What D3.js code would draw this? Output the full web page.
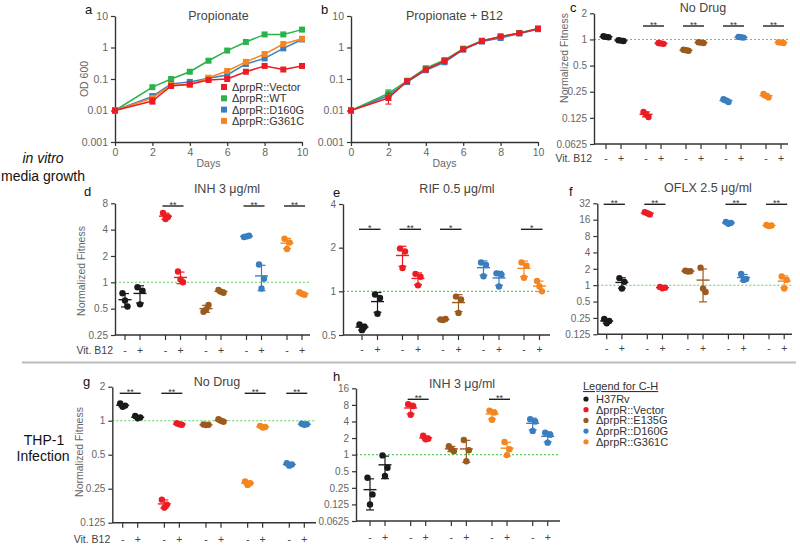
<!DOCTYPE html>
<html>
<head>
<meta charset="utf-8">
<script src="https://cdn.jsdelivr.net/npm/d3@7"></script>
<style>
body { margin: 0; background: #fff; }
text { font-family: "Liberation Sans", Arial, Helvetica, sans-serif; }
</style>
</head>
<body>
<svg id="fig" width="800" height="546"></svg>
<script>
// ---- panel a / b growth curves ----
var days = [0, 2, 3, 4, 5, 6, 7, 8, 9, 10];
var propVector = [0.01, 0.02, 0.06, 0.068, 0.093, 0.1, 0.17, 0.26, 0.2, 0.26];
var propWT     = [0.01, 0.055, 0.1, 0.17, 0.38, 0.8, 1.5, 2.6, 2.6, 3.7];
var propD160G  = [0.01, 0.028, 0.07, 0.081, 0.105, 0.134, 0.3, 0.45, 0.94, 1.8];
var propG361C  = [0.01, 0.025, 0.065, 0.065, 0.11, 0.18, 0.35, 0.62, 1.29, 1.9];
var b12Vector  = [0.01, 0.025, 0.085, 0.2, 0.37, 0.88, 1.6, 2.25, 2.85, 3.95];
var b12WT      = [0.01, 0.035, 0.088, 0.22, 0.4, 0.92, 1.65, 2.2, 2.9, 4.0];
var b12D160G   = [0.01, 0.03, 0.08, 0.19, 0.34, 0.86, 1.55, 2.0, 2.8, 3.8];
// error bars [day, low, high]
var propVectorErr = [[2, 0.016, 0.025]];
var propD160GErr  = [[2, 0.022, 0.034]];
var propG361CErr  = [[4, 0.058, 0.075]];
var b12VectorErr  = [[2, 0.016, 0.035]];
var b12WTErr      = [[2, 0.028, 0.045]];
var odTicks = [0.001, 0.01, 0.1, 1, 10];
var dayTicks = [0, 2, 4, 6, 8, 10];
var legendA = ["ΔprpR::Vector", "ΔprpR::WT", "ΔprpR::D160G", "ΔprpR::G361C"];

// ---- panels c-h: replicate fitness values, [group][minus B12, plus B12][replicate] ----
var orderCF = ["H37Rv", "Vector", "E135G", "D160G", "G361C"];
var orderGH = ["H37Rv", "Vector", "E135G", "G361C", "D160G"];
var fitC = [
  [[1.09, 1.06, 1.07], [0.98, 0.96, 0.97]],
  [[0.146, 0.128, 0.138], [0.91, 0.89, 0.9]],
  [[0.76, 0.74, 0.75], [0.93, 0.91, 0.92]],
  [[0.205, 0.19, 0.198], [1.07, 1.05, 1.06]],
  [[0.235, 0.215, 0.225], [0.93, 0.91, 0.92]]
];
var fitD = [
  [[0.75, 0.53, 0.62], [0.88, 0.8, 0.56]],
  [[6.2, 5.6, 5.3], [1.33, 1.0, 1.08]],
  [[0.46, 0.55, 0.49], [0.82, 0.76, 0.78]],
  [[3.3, 3.4, 3.35], [1.6, 1.1, 0.85]],
  [[3.15, 2.85, 2.4], [0.77, 0.72, 0.74]]
];
var fitE = [
  [[0.59, 0.57, 0.54], [0.95, 0.9, 0.7]],
  [[1.97, 1.88, 1.45], [1.32, 1.26, 1.1]],
  [[0.64, 0.645, 0.635], [0.92, 0.88, 0.71]],
  [[1.58, 1.52, 1.27], [1.33, 1.3, 1.08]],
  [[1.58, 1.5, 1.24], [1.18, 1.0, 1.08]]
];
var fitF = [
  [[0.24, 0.22, 0.2], [1.35, 1.15, 0.87]],
  [[22, 20, 21], [0.93, 0.9, 0.88]],
  [[1.85, 1.8, 1.78], [2.1, 0.75, 0.87]],
  [[14.5, 14, 13.5], [1.6, 1.3, 1.25]],
  [[12.8, 12.5, 12.2], [1.44, 1.25, 0.87]]
];
var fitG = [
  [[1.42, 1.36, 1.33], [1.1, 1.07, 1.05]],
  [[0.2, 0.18, 0.17], [0.95, 0.92, 0.93]],
  [[0.925, 0.92, 0.915], [1.03, 0.98, 1.0]],
  [[0.29, 0.28, 0.27], [0.9, 0.88, 0.87]],
  [[0.42, 0.41, 0.4], [0.94, 0.93, 0.92]]
];
var fitH = [
  [[0.38, 0.19, 0.125], [0.97, 0.58, 0.41]],
  [[8.2, 7.6, 5.3], [2.2, 1.95, 1.9]],
  [[1.42, 1.15, 1.25], [1.85, 1.2, 0.76]],
  [[6.3, 5.8, 4.3], [1.7, 1.25, 0.98]],
  [[4.4, 4.0, 2.7], [2.5, 2.3, 1.65]]
];
var sigC = ["", "**", "**", "**", "**"];
var sigD = ["", "**", "", "**", "**"];
var sigE = ["*", "**", "*", "", "*"];
var sigF = ["**", "**", "", "**", "**"];
var sigG = ["**", "**", "", "**", "**"];
var sigH = ["", "**", "", "**", ""];
var legendCH = ["H37Rv", "ΔprpR::Vector", "ΔprpR::E135G", "ΔprpR::D160G", "ΔprpR::G361C"];

var colors = {H37Rv: "#1a1a1a", Vector: "#ec1c24", WT: "#2bb24c", E135G: "#9a5a1e",
              D160G: "#3a7ec0", G361C: "#f5861f"};
var axisGray = "#666";

var svg = d3.select("#fig");

function styleAxis(g) {
  g.select(".domain").attr("stroke", "#333").attr("stroke-width", 1.4);
  g.selectAll(".tick line").attr("stroke", "#333").attr("stroke-width", 1.2);
  g.selectAll(".tick text").attr("fill", axisGray).attr("font-size", 10);
}

function txt(x, y, s, size, opts) {
  opts = opts || {};
  return svg.append("text").attr("x", x).attr("y", y).text(s)
    .attr("font-size", size)
    .attr("fill", opts.fill || "#222")
    .attr("text-anchor", opts.anchor || "start")
    .attr("font-style", opts.italic ? "italic" : "normal");
}

// ---------- growth panels ----------
function growthPanel(x0, x1, series, errs, title, letter, withLabel) {
  var x = d3.scaleLinear().domain([0, 10]).range([x0, x1]);
  var y = d3.scaleLog().domain([0.001, 10]).range([142, 16]);
  var gx = svg.append("g").attr("transform", "translate(0,142)")
    .call(d3.axisBottom(x).tickValues(dayTicks).tickSize(4).tickSizeOuter(0));
  styleAxis(gx);
  gx.selectAll(".tick text").attr("font-size", 10.5);
  var gy = svg.append("g").attr("transform", "translate(" + x0 + ",0)")
    .call(d3.axisLeft(y).tickValues(odTicks).tickFormat(function (d) { return String(d); })
      .tickSize(4).tickSizeOuter(0));
  styleAxis(gy);
  gy.selectAll(".tick text").attr("font-size", 10.5);

  var line = d3.line().x(function (d, i) { return x(days[i]); }).y(function (d) { return y(d); });
  series.forEach(function (s, si) {
    var c = colors[s.key];
    svg.append("path").datum(s.values).attr("d", line)
      .attr("fill", "none").attr("stroke", c).attr("stroke-width", 1.5);
    (errs[si] || []).forEach(function (e) {
      var ex = x(e[0]);
      svg.append("line").attr("x1", ex).attr("x2", ex).attr("y1", y(e[1])).attr("y2", y(e[2]))
        .attr("stroke", c).attr("stroke-width", 1.1);
      [e[1], e[2]].forEach(function (v) {
        svg.append("line").attr("x1", ex - 3).attr("x2", ex + 3).attr("y1", y(v)).attr("y2", y(v))
          .attr("stroke", c).attr("stroke-width", 1.1);
      });
    });
    svg.selectAll(null).data(s.values).enter().append("rect")
      .attr("x", function (d, i) { return x(days[i]) - 3; })
      .attr("y", function (d) { return y(d) - 3; })
      .attr("width", 6).attr("height", 6).attr("fill", c);
  });

  txt((x0 + x1) / 2 + 10, 20, title, 12.5, {anchor: "middle", fill: "#444"});
  txt((x0 + x1) / 2, 167, "Days", 10.5, {anchor: "middle", fill: axisGray});
  txt(x0 - 30, 14, letter, 13, {fill: "#111"});
  if (withLabel) {
    svg.append("text").attr("transform", "translate(" + (x0 - 27) + ",79) rotate(-90)")
      .attr("text-anchor", "middle").attr("font-size", 10.5).attr("fill", axisGray).text("OD 600");
  }
}

growthPanel(115, 302,
  [{key: "WT", values: propWT}, {key: "D160G", values: propD160G},
   {key: "G361C", values: propG361C}, {key: "Vector", values: propVector}],
  [[], propD160GErr, propG361CErr, propVectorErr], "Propionate", "a", true);

growthPanel(351, 538,
  [{key: "D160G", values: b12D160G}, {key: "WT", values: b12WT}, {key: "Vector", values: b12Vector}],
  [[], b12WTErr, b12VectorErr], "Propionate + B12", "b", false);

// legend for a
var legKeys = ["Vector", "WT", "D160G", "G361C"];
legendA.forEach(function (s, i) {
  var yy = 87 + i * 11.3;
  svg.append("rect").attr("x", 221).attr("y", yy - 3).attr("width", 6).attr("height", 6)
    .attr("fill", colors[legKeys[i]]);
  txt(232, yy + 4, s, 11, {fill: "#333"});
});

// ---------- dot panels ----------
function dotPanel(cfg) {
  var y = d3.scaleLog().base(2).domain([cfg.ymin, cfg.ymax]).range([cfg.yb, cfg.yt]);
  var gpos = d3.scaleLinear().domain([0, 4]).range([cfg.gx0, cfg.gx1]);
  function xOf(g, k) { return gpos(g) + k * cfg.pair; }

  // reference line at 1
  svg.append("line").attr("x1", cfg.ax).attr("x2", cfg.axEnd).attr("y1", y(1)).attr("y2", y(1))
    .attr("stroke", "#5ccf5c").attr("stroke-width", 1.1).attr("stroke-dasharray", "2,2");

  var gy = svg.append("g").attr("transform", "translate(" + cfg.ax + ",0)")
    .call(d3.axisLeft(y).tickValues(cfg.ticks).tickFormat(function (d) { return String(d); })
      .tickSize(4).tickSizeOuter(0));
  styleAxis(gy);

  svg.append("line").attr("x1", cfg.ax).attr("x2", cfg.axEnd).attr("y1", cfg.yb).attr("y2", cfg.yb)
    .attr("stroke", "#333").attr("stroke-width", 1.4);

  cfg.data.forEach(function (grp, g) {
    var c = colors[cfg.order[g]];
    grp.forEach(function (reps, k) {
      var cx = xOf(g, k);
      svg.append("line").attr("x1", cx).attr("x2", cx).attr("y1", cfg.yb).attr("y2", cfg.yb + 5)
        .attr("stroke", "#333").attr("stroke-width", 1.2);
      txt(cx, cfg.labelY + 4, k === 0 ? "-" : "+", 10.5, {anchor: "middle", fill: "#444"});

      var m = d3.mean(reps), sd = d3.deviation(reps);
      var lo = Math.max(m - sd, cfg.ymin * 0.5), hi = m + sd;
      svg.append("line").attr("x1", cx).attr("x2", cx).attr("y1", y(lo)).attr("y2", y(hi))
        .attr("stroke", c).attr("stroke-width", 1.2);
      [lo, hi].forEach(function (v) {
        svg.append("line").attr("x1", cx - 4).attr("x2", cx + 4).attr("y1", y(v)).attr("y2", y(v))
          .attr("stroke", c).attr("stroke-width", 1.2);
      });
      svg.append("line").attr("x1", cx - 6.5).attr("x2", cx + 6.5).attr("y1", y(m)).attr("y2", y(m))
        .attr("stroke", c).attr("stroke-width", 1.4);
      var jit = [-2.5, 2.5, 0];
      reps.forEach(function (v, r) {
        svg.append("circle").attr("cx", cx + jit[r]).attr("cy", y(v)).attr("r", 3.2).attr("fill", c);
      });
    });
    if (cfg.sig[g]) {
      var sx0 = xOf(g, 0) - 3, sx1 = xOf(g, 1) + 3;
      svg.append("line").attr("x1", sx0).attr("x2", sx1).attr("y1", cfg.sigY).attr("y2", cfg.sigY)
        .attr("stroke", "#222").attr("stroke-width", 1.4);
      txt((sx0 + sx1) / 2, cfg.sigY + 1.5, cfg.sig[g], 9, {anchor: "middle", fill: "#333"});
    }
  });

  txt(cfg.titleX, cfg.titleY, cfg.title, 12.5, {anchor: "middle", fill: "#444"});
  txt(cfg.letterX, cfg.letterY, cfg.letter, 13, {fill: "#111"});
  if (cfg.ylabX) {
    svg.append("text").attr("transform", "translate(" + cfg.ylabX + "," + cfg.ylabY + ") rotate(-90)")
      .attr("text-anchor", "middle").attr("font-size", 10.5).attr("fill", axisGray)
      .text("Normalized Fitness");
  }
  if (cfg.vit) {
    txt(cfg.ax - 2, cfg.labelY + 4, "Vit. B12", 10.5, {anchor: "end", fill: "#444"});
  }
}

dotPanel({ax: 594, axEnd: 788, yt: 13.3, yb: 144, ymin: 0.0625, ymax: 2,
  ticks: [0.0625, 0.125, 0.25, 0.5, 1, 2], gx0: 606, gx1: 766, pair: 15,
  labelY: 158, sigY: 26, data: fitC, order: orderCF, sig: sigC,
  title: "No Drug", titleX: 703, titleY: 11.5, letter: "c", letterX: 570, letterY: 12,
  ylabX: 568, ylabY: 58, vit: true});

dotPanel({ax: 115, axEnd: 310, yt: 203.3, yb: 335, ymin: 0.25, ymax: 8,
  ticks: [0.25, 0.5, 1, 2, 4, 8], gx0: 125, gx1: 287, pair: 15,
  labelY: 350, sigY: 206, data: fitD, order: orderCF, sig: sigD,
  title: "INH 3 μg/ml", titleX: 227, titleY: 193, letter: "d", letterX: 84, letterY: 196,
  ylabX: 85, ylabY: 271, vit: true});

dotPanel({ax: 343, axEnd: 550, yt: 204, yb: 335, ymin: 0.5, ymax: 4,
  ticks: [0.5, 1, 2, 4], gx0: 362, gx1: 524, pair: 15.5,
  labelY: 349, sigY: 229.3, data: fitE, order: orderCF, sig: sigE,
  title: "RIF 0.5 μg/ml", titleX: 457, titleY: 193, letter: "e", letterX: 333, letterY: 197});

dotPanel({ax: 597.3, axEnd: 792, yt: 203.3, yb: 334.3, ymin: 0.125, ymax: 32,
  ticks: [0.125, 0.25, 0.5, 1, 2, 4, 8, 16, 32], gx0: 606.7, gx1: 769, pair: 15.2,
  labelY: 348, sigY: 204.3, data: fitF, order: orderCF, sig: sigF,
  title: "OFLX 2.5 μg/ml", titleX: 708, titleY: 192, letter: "f", letterX: 569, letterY: 196});

dotPanel({ax: 112.3, axEnd: 316, yt: 386.7, yb: 522.7, ymin: 0.125, ymax: 2,
  ticks: [0.125, 0.25, 0.5, 1, 2], gx0: 122.7, gx1: 289.3, pair: 15,
  labelY: 539, sigY: 393.3, data: fitG, order: orderGH, sig: sigG,
  title: "No Drug", titleX: 217, titleY: 386, letter: "g", letterX: 83, letterY: 386,
  ylabX: 83, ylabY: 452, vit: true});

dotPanel({ax: 356, axEnd: 560, yt: 388.3, yb: 521, ymin: 0.0625, ymax: 16,
  ticks: [0.0625, 0.125, 0.25, 0.5, 1, 2, 4, 8, 16], gx0: 370, gx1: 532.7, pair: 15,
  labelY: 537, sigY: 399.3, data: fitH, order: orderGH, sig: sigH,
  title: "INH 3 μg/ml", titleX: 462, titleY: 387.5, letter: "h", letterX: 333, letterY: 381});

// separator
svg.append("line").attr("x1", 22).attr("x2", 796).attr("y1", 362.5).attr("y2", 362.5)
  .attr("stroke", "#bbb").attr("stroke-width", 2);

// row labels
txt(43, 163, "in vitro", 14, {anchor: "middle", italic: true, fill: "#111"});
txt(43, 181, "media growth", 14, {anchor: "middle", fill: "#111"});
txt(44, 445, "THP-1", 14, {anchor: "middle", fill: "#111"});
txt(43, 461, "Infection", 14, {anchor: "middle", fill: "#111"});

// legend C-H
txt(583, 390, "Legend for C-H", 11, {fill: "#333"}).attr("text-decoration", "underline");
var legKeysCH = ["H37Rv", "Vector", "E135G", "D160G", "G361C"];
legendCH.forEach(function (s, i) {
  var yy = 399 + i * 10.7;
  svg.append("circle").attr("cx", 586).attr("cy", yy).attr("r", 2.6).attr("fill", colors[legKeysCH[i]]);
  txt(596, yy + 4, s, 11, {fill: "#333"});
});
</script>
</body>
</html>
